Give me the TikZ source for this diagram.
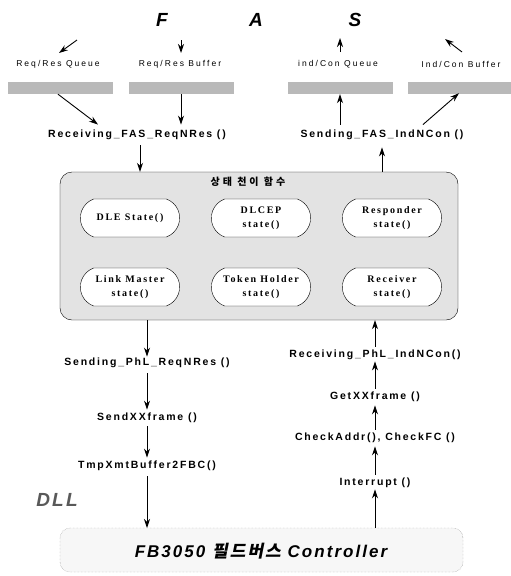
\documentclass[tikz,border=0pt]{standalone}
\usepackage{xcolor}
\usepackage{fontspec}
\setmainfont{Liberation Sans}
\newfontfamily\labfont[LetterSpace=17]{Liberation Sans}
\newfontfamily\smallfont[LetterSpace=24]{Liberation Sans}
\newfontfamily\bigfont[LetterSpace=12]{Liberation Sans}
\newfontfamily\stfont[LetterSpace=17]{Liberation Serif}
\newfontfamily\krfont[LetterSpace=30]{Noto Sans CJK KR}
\newfontfamily\krslant[FakeSlant=0.2,LetterSpace=12]{Noto Sans CJK KR}
\usepackage{tikz}
\usetikzlibrary{shapes.misc,arrows.meta}

\begin{document}
\begin{tikzpicture}[x=1pt,y=-1pt,
    func/.style={font=\labfont\bfseries\fontsize{10.5}{12}\selectfont},
    small/.style={font=\smallfont\fontsize{8.5}{10}\selectfont},
    big/.style={font=\bigfont\bfseries\itshape\fontsize{19}{22}\selectfont},
    state/.style={draw,rounded rectangle,rounded rectangle arc length=140,fill=white,
      minimum width=106pt,minimum height=38pt,align=center,
      font=\stfont\bfseries\fontsize{10}{14}\selectfont},
    bar/.style={fill=gray!55,minimum width=105pt,minimum height=12pt,inner sep=0pt},
    flow/.style={-{Stealth[length=9pt,width=6pt]},line width=0.9pt}]
    \useasboundingbox (0,0) rectangle (511,576);

    \node[big] (f) at (162,20) {F};
    \node[big] (a) at (256,20) {A};
    \node[big] (s) at (355,20) {S};

    \node[small] (rq) at (58,64) {Req/Res Queue};
    \node[small] (rb) at (180,64) {Req/Res Buffer};
    \node[small] (iq) at (338,64) {ind/Con Queue};
    \node[small] (ib) at (461,64) {Ind/Con Buffer};
    \coordinate (rqa) at (77,40);
    \coordinate (rqb) at (59,53);
    \coordinate (rba) at (181,40);
    \coordinate (rbb) at (181,53);
    \coordinate (iqa) at (340,52);
    \coordinate (iqb) at (340,38);
    \coordinate (iba) at (462,52);
    \coordinate (ibb) at (445,39);
    \draw[flow] (rqa) -- (rqb);
    \draw[flow] (rba) -- (rbb);
    \draw[flow] (iqa) -- (iqb);
    \draw[flow] (iba) -- (ibb);

    \node[bar] (rqbar) at (60,88) {};
    \node[bar] (rbbar) at (181,88) {};
    \node[bar] (iqbar) at (340,88) {};
    \node[bar] (ibbar) at (460,88) {};

    \node[func] (recvfas) at (137,135) {Receiving\_FAS\_ReqNRes ()};
    \node[func] (sendfas) at (382,135) {Sending\_FAS\_IndNCon ()};
    \draw[flow] ([xshift=-2pt]rqbar.south) -- ([xshift=-39pt,yshift=2pt]recvfas.north);
    \draw[flow] (rbbar.south) -- ([xshift=44pt,yshift=2pt]recvfas.north);
    \draw[flow] ([xshift=-42pt,yshift=2pt]sendfas.north) -- (iqbar.south);
    \draw[flow] ([xshift=41pt,yshift=2pt]sendfas.north) -- ([xshift=-1pt,yshift=1pt]ibbar.south);

    \node[draw,rounded corners=12pt,fill=gray!22,minimum width=398pt,
      minimum height=148pt] (fsm) at (259,246) {};
    \node[font=\krfont\bfseries\fontsize{10}{12}\selectfont] (title) at (248,182) {상태 천이 함수};

    \node[state] (dle) at (130,218) {DLE State()};
    \node[state] (dlcep) at (261,218) {DLCEP\\state()};
    \node[state] (resp) at (392,218) {Responder\\state()};
    \node[state] (lm) at (130,287) {Link Master\\state()};
    \node[state] (th) at (261,287) {Token Holder\\state()};
    \node[state] (rcv) at (392,287) {Receiver\\state()};

    \draw[flow] ([xshift=3pt,yshift=-2pt]recvfas.south) -- ([xshift=3pt]recvfas.south |- fsm.north);
    \draw[flow] (sendfas.south |- fsm.north) -- ([yshift=-4pt]sendfas.south);

    \node[func] (sendphl) at (147,363) {Sending\_PhL\_ReqNRes ()};
    \node[func] (sendxx) at (147,418) {SendXXframe ()};
    \node[func] (tmp) at (147,466) {TmpXmtBuffer2FBC()};
    \node[big,text=gray!70!black] (dll) at (57,500) {DLL};

    \node[func] (recvphl) at (375,355) {Receiving\_PhL\_IndNCon()};
    \node[func] (getxx) at (375,397) {GetXXframe ()};
    \node[func] (check) at (375,438) {CheckAddr(), CheckFC ()};
    \node[func] (intr) at (375,483) {Interrupt ()};

    \draw[densely dotted,gray,fill=gray!6,rounded corners=10pt]
      (463,528) -- (60,528) -- (60,572) -- (463,572) -- cycle;
    \coordinate (fbtop) at (261,528);
    \node[font=\bigfont\bfseries\itshape\fontsize{17}{20}\selectfont] (fb) at (261,551)
      {FB3050 {\krslant\bfseries 필드버스} Controller};

    \draw[flow] (sendphl.north |- fsm.south) -- ([yshift=-2pt]sendphl.north);
    \draw[flow] ([yshift=-2pt]sendphl.south) -- (sendxx.north);
    \draw[flow] (sendxx.south) -- (tmp.north);
    \draw[flow] ([yshift=-2pt]tmp.south) -- (tmp.south |- fbtop);

    \draw[flow] (recvphl.north) -- (recvphl.north |- fsm.south);
    \draw[flow] (getxx.north) -- ([yshift=2pt]recvphl.south);
    \draw[flow] (check.north) -- (getxx.south);
    \draw[flow] (intr.north) -- (check.south);
    \draw[flow] (intr.south |- fbtop) -- ([yshift=2pt]intr.south);
\end{tikzpicture}
\end{document}
